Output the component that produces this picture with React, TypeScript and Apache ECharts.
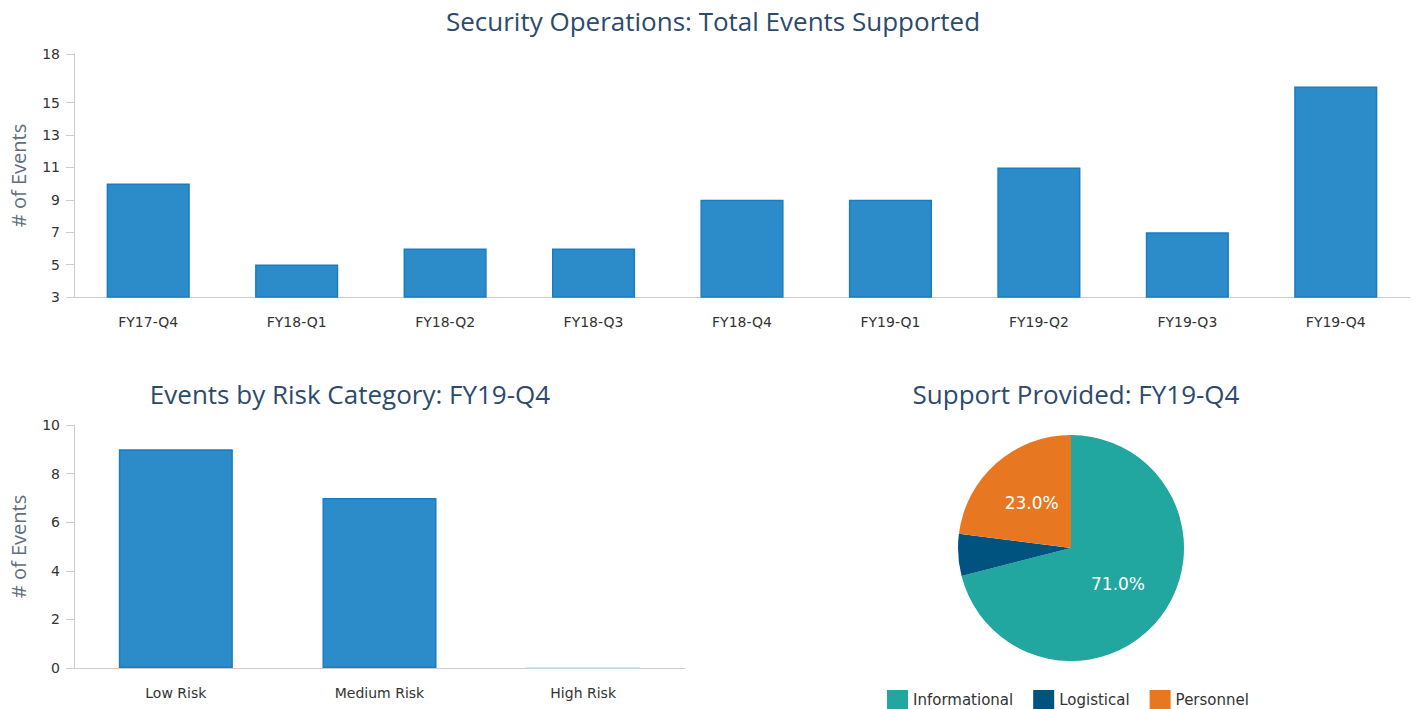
import React, { useEffect, useRef } from "react";
import * as echarts from "echarts";

const quarters = ["FY17-Q4", "FY18-Q1", "FY18-Q2", "FY18-Q3", "FY18-Q4", "FY19-Q1", "FY19-Q2", "FY19-Q3", "FY19-Q4"];
const totalEvents = [10, 5, 6, 6, 9, 9, 11, 7, 16];
const topTicks = [3, 5, 7, 9, 11, 13, 15, 18];

const riskCategories = ["Low Risk", "Medium Risk", "High Risk"];
const riskEvents = [9, 7, 0];

const supportNames = ["Informational", "Logistical", "Personnel"];
const supportValues = [71, 6, 23];
const supportColors = ["#21a6a0", "#00527f", "#e87722"];

const TITLE_FONT = "Open Sans";
const FONT = "DejaVu Sans";
const TITLE_COLOR = "#2c4a6e";
const BAR_STYLE = { color: "#2b8cc9", borderColor: "#1b7cc0", borderWidth: 1.5 };

export default function App() {
  const ref = useRef<HTMLDivElement>(null);
  useEffect(() => {
    document.body.style.margin = "0";
    const chart = echarts.init(ref.current!, null, { renderer: "svg" });
    const axisLine = { lineStyle: { color: "#cccccc" } };
    const yLabel = { color: "#333", fontSize: 14, fontFamily: FONT };
    const xLabel = { color: "#333", fontSize: 14, fontFamily: FONT };
    const yName = {
      name: "# of Events",
      nameLocation: "middle" as const,
      nameGap: 46,
      nameTextStyle: { color: "#5f6f80", fontSize: 20, fontFamily: TITLE_FONT },
    };
    const titleStyle = { color: TITLE_COLOR, fontSize: 26, fontWeight: "normal", fontFamily: TITLE_FONT };
    chart.setOption({
      animation: false,
      title: [
        { text: "Security Operations: Total Events Supported", left: 708, top: 3, textAlign: "center", textStyle: titleStyle },
        { text: "Events by Risk Category: FY19-Q4", left: 345, top: 376, textAlign: "center", textStyle: titleStyle },
        { text: "Support Provided: FY19-Q4", left: 1071, top: 376, textAlign: "center", textStyle: titleStyle },
      ],
      grid: [
        { left: 74, right: 10, top: 54, height: 243, outerBoundsMode: "none", containLabel: false },
        { left: 74, width: 611, top: 425, height: 243, outerBoundsMode: "none", containLabel: false },
      ],
      xAxis: [
        { type: "category", gridIndex: 0, data: quarters, axisLine, axisTick: { lineStyle: { color: "#cccccc" }, length: 10 },
          axisLabel: { ...xLabel, margin: 18 } },
        { type: "category", gridIndex: 1, data: riskCategories, axisLine, axisTick: { lineStyle: { color: "#cccccc" }, length: 10 },
          axisLabel: { ...xLabel, margin: 18 } },
      ],
      yAxis: [
        { type: "value", gridIndex: 0, min: 3, max: 18, interval: 1, ...yName,
          axisLine: { show: true, ...axisLine }, axisTick: { show: true, customValues: topTicks, length: 8, lineStyle: { color: "#cccccc" } },
          axisLabel: { ...yLabel, customValues: topTicks, margin: 14 }, splitLine: { show: false } },
        { type: "value", gridIndex: 1, min: 0, max: 10, interval: 2, ...yName,
          axisLine: { show: true, ...axisLine }, axisTick: { show: true, length: 8, lineStyle: { color: "#cccccc" } },
          axisLabel: { ...yLabel, margin: 14 }, splitLine: { show: false } },
      ],
      legend: {
        data: supportNames, left: 882, top: 685, orient: "horizontal",
        itemWidth: 21, itemHeight: 20, itemGap: 20, icon: "rect",
        textStyle: { color: "#333", fontSize: 15, fontFamily: FONT },
      },
      series: [
        { type: "bar", xAxisIndex: 0, yAxisIndex: 0, data: totalEvents, barWidth: "56%", itemStyle: BAR_STYLE },
        { type: "bar", xAxisIndex: 1, yAxisIndex: 1, barWidth: "56%", itemStyle: BAR_STYLE,
          data: riskEvents.map((v) => (v === 0 ? { value: v, itemStyle: { borderColor: "#bfe0f5" } } : v)) },
        { type: "pie", center: [1071, 548], radius: 113, startAngle: 90, clockwise: true,
          data: supportNames.map((n, i) => ({ name: n, value: supportValues[i], itemStyle: { color: supportColors[i] } })),
          label: { show: true, position: "inside", color: "#fff", fontSize: 17, fontFamily: FONT,
            formatter: (p: any) => (p.value >= 10 ? p.value.toFixed(1) + "%" : "") },
          labelLine: { show: false }, itemStyle: { borderWidth: 0 } },
      ],
    });
    return () => chart.dispose();
  }, []);
  return <div ref={ref} style={{ width: 1420, height: 709 }} />;
}
